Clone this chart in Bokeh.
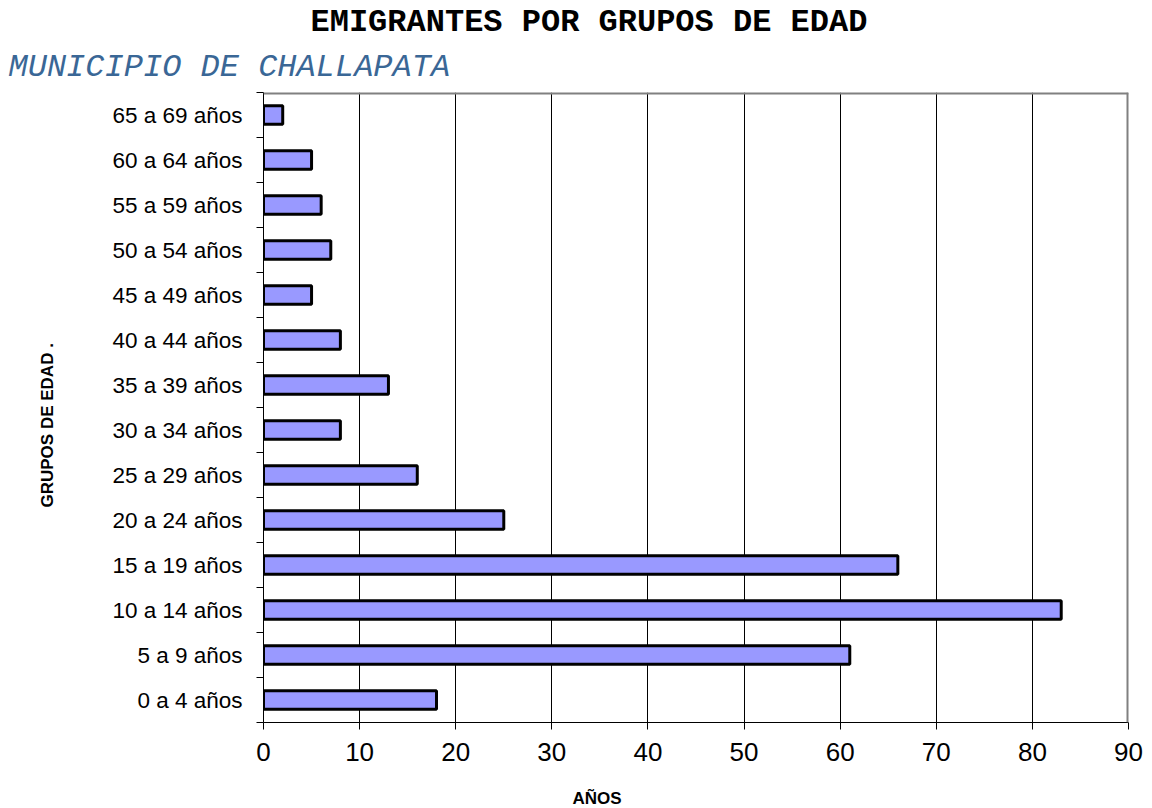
from bokeh.plotting import figure
from bokeh.models import Range1d, FixedTicker, Span, Title, ColumnDataSource
from bokeh.embed import file_html
from bokeh.resources import INLINE

categories = ["0 a 4 años", "5 a 9 años", "10 a 14 años", "15 a 19 años", "20 a 24 años",
              "25 a 29 años", "30 a 34 años", "35 a 39 años", "40 a 44 años", "45 a 49 años",
              "50 a 54 años", "55 a 59 años", "60 a 64 años", "65 a 69 años"]
values = [18, 61, 83, 66, 25, 16, 8, 13, 8, 5, 7, 6, 5, 2]
x_ticks = [0, 10, 20, 30, 40, 50, 60, 70, 80, 90]

n = len(categories)
centers = [i + 0.5 for i in range(n)]
src = ColumnDataSource(dict(y=centers, right=values, cat=categories))

p = figure(width=1152, height=808, output_backend="svg", toolbar_location=None,
           x_range=Range1d(0, 90), y_range=Range1d(0, n),
           min_border_left=263, min_border_right=24, min_border_top=92, min_border_bottom=86)
p.outline_line_color = None
p.background_fill_color = "white"
p.border_fill_color = "white"

p.hbar(y="y", left=0, right="right", height=0.41, source=src,
       fill_color="#9999ff", line_color="black", line_width=3)

xa = p.xaxis[0]
xa.ticker = FixedTicker(ticks=x_ticks)
xa.major_label_text_font = "Liberation Sans"
xa.major_label_text_font_size = "26px"
xa.major_label_text_color = "black"
xa.major_tick_out = 7
xa.major_tick_in = 0
xa.minor_tick_line_color = None
xa.axis_line_color = "black"
xa.axis_line_width = 1
xa.major_label_standoff = 13
# blank spacer label, to push the axis title further out
xa.axis_label = " "
xa.axis_label_text_font_size = "16px"
xa.axis_label_standoff = 2

ya = p.yaxis[0]
ya.ticker = FixedTicker(ticks=centers, minor_ticks=list(range(n + 1)))
ya.major_label_overrides = {c: cat for c, cat in zip(centers, categories)}
ya.major_label_text_font = "Liberation Sans"
ya.major_label_text_font_size = "22.5px"
ya.major_label_text_color = "black"
ya.major_tick_line_color = None
ya.major_tick_out = 0
ya.major_tick_in = 0
ya.minor_tick_out = 7
ya.minor_tick_in = 0
ya.minor_tick_line_color = "black"
ya.axis_line_color = "black"
ya.axis_line_width = 1
ya.major_label_standoff = 14
ya.axis_label = " "
ya.axis_label_text_font_size = "13px"
ya.axis_label_standoff = 0

p.xgrid.ticker = FixedTicker(ticks=x_ticks)
p.xgrid.grid_line_color = "black"
p.xgrid.grid_line_width = 1
p.ygrid.grid_line_color = None

p.add_layout(Span(location=n, dimension="width", line_color="#808080", line_width=4))
p.add_layout(Span(location=90, dimension="height", line_color="#808080", line_width=4))

xt = Title(text="AÑOS", align="left", offset=309, standoff=2,
           text_font="Liberation Sans", text_font_style="bold", text_font_size="17px",
           text_color="black")
p.add_layout(xt, "below")
yt = Title(text="GRUPOS DE EDAD .", align="left", offset=215, standoff=69,
           text_font="Liberation Sans", text_font_style="bold", text_font_size="17px",
           text_color="black")
p.add_layout(yt, "left")

sub = Title(text="MUNICIPIO DE CHALLAPATA", align="left", offset=-255, standoff=14,
            text_font="Liberation Mono", text_font_style="italic", text_font_size="32px",
            text_color="#3a6796")
ttl = Title(text="EMIGRANTES POR GRUPOS DE EDAD", align="left", offset=47, standoff=-3,
            text_font="Liberation Mono", text_font_style="bold", text_font_size="32px",
            text_color="black")
p.add_layout(sub, "above")
p.add_layout(ttl, "above")

open("out.html", "w").write(file_html(p, INLINE))
